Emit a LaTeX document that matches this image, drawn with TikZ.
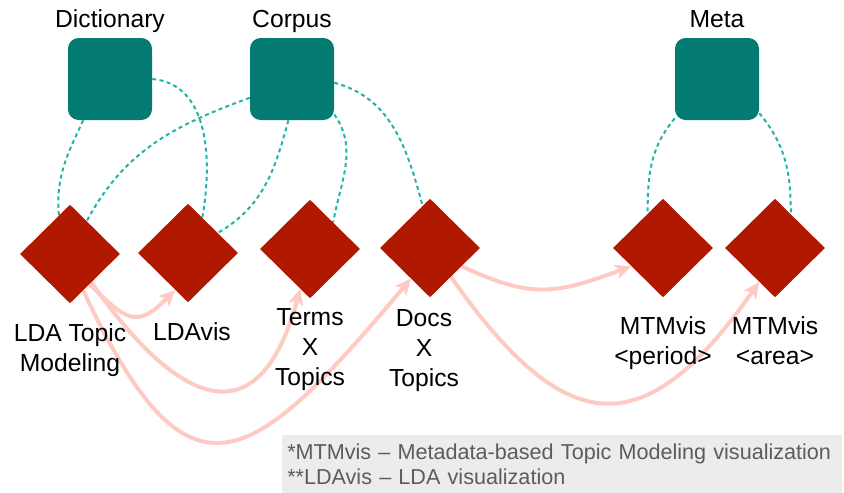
\documentclass[tikz,border=0pt]{standalone}
\usepackage{fontspec}
\setmainfont{Liberation Sans}
\usepackage{tikz}
\usetikzlibrary{positioning, arrows.meta, shapes.geometric, backgrounds}
\definecolor{srcteal}{RGB}{3,122,114}
\definecolor{linkteal}{RGB}{32,180,168}
\definecolor{visred}{RGB}{176,24,0}
\definecolor{flowpink}{RGB}{255,202,196}
\definecolor{notegray}{RGB}{236,236,236}
\definecolor{notetext}{RGB}{92,92,92}

\begin{document}
\begin{tikzpicture}[x=0.75pt, y=0.75pt, node distance=7.5pt,
  every node/.style={font=\fontsize{18.5}{22.5}\selectfont},
  srcbox/.style={fill=srcteal, rounded corners=8pt, minimum width=63pt, minimum height=61.5pt, inner sep=0pt},
  heading/.style={inner sep=0pt, text depth=0pt},
  visdiam/.style={diamond, fill=visred, minimum width=75pt, minimum height=74pt, inner sep=0pt},
  vislabel/.style={inner sep=0pt, align=center},
  datalink/.style={draw=linkteal, line width=1.5pt, dash pattern=on 3pt off 2.5pt},
  flow/.style={draw=flowpink, line width=3pt, -{Stealth[length=12pt, width=11pt, inset=3pt]}}]
\useasboundingbox (0,0) rectangle (844,-493);

% sources
\node[srcbox] (dict) at (110,-79) {};
\node[srcbox] (corpus) at (292,-79) {};
\node[srcbox] (meta) at (717,-79) {};
\node[heading, above=of dict] (dictlabel) {Dictionary};
\node[heading, above=of corpus] (corpuslabel) {Corpus};
\node[heading, above=of meta] (metalabel) {Meta};

% visualizations
\node[visdiam] (lda) at (70,-254) {};
\node[visdiam] (ldavis) at (188,-253) {};
\node[visdiam] (terms) at (310,-249) {};
\node[visdiam] (docs) at (430,-248) {};
\node[visdiam] (mtmp) at (663,-248) {};
\node[visdiam] (mtma) at (775,-248) {};
\node[vislabel, below=15pt of lda] (ldalabel) {LDA Topic\\Modeling};
\node[vislabel, below=15pt of ldavis, xshift=3pt] (ldavislabel) {LDAvis};
\node[vislabel, below=7.5pt of terms] (termslabel) {Terms\\X\\Topics};
\node[vislabel, below=9pt of docs, xshift=-4.5pt] (docslabel) {Docs\\X\\Topics};
\node[vislabel, below=14pt of mtmp] (mtmplabel) {MTMvis\\<period>};
\node[vislabel, below=14pt of mtma] (mtmalabel) {MTMvis\\<area>};

% note
\node[anchor=north west, fill=notegray, text=notetext, font=\fontsize{16.2}{18.75}\selectfont,
  align=left, text width=412pt, minimum height=43.5pt, inner xsep=3.75pt, inner ysep=0pt]
  (note) at (282,-435) {*MTMvis -- Metadata-based Topic Modeling visualization\\{}**LDAvis -- LDA visualization};

\begin{pgfonlayer}{background}
% dashed data links
\draw[datalink] (dict.-123) to[out=-115, in=95] (lda.106);
\draw[datalink] (dict.east) to[out=-5, in=80] (ldavis.68);
\draw[datalink] (corpus.204) to[out=200, in=62] (lda.63);
\draw[datalink] (corpus.-95) to[out=-105, in=30] (ldavis.34);
\draw[datalink] (corpus.-40) to[out=-55, in=80] (terms.49);
\draw[datalink] (corpus.-5) to[out=-15, in=105] (docs.100);
\draw[datalink] (meta.223) to[out=-130, in=90] (mtmp.114);
\draw[datalink] (meta.-39) to[out=-50, in=90] (mtma.65);
% flows
\draw[flow] (lda.-57) to[out=-45, in=-135, looseness=1.6] (ldavis.-109);
\draw[flow] (lda.-53) to[out=-55, in=-105, looseness=1.9] (terms.-104);
\draw[flow] (lda.-70) to[out=-65, in=-130, looseness=1.95] (docs.-122);
\draw[flow] (docs.-30) to[out=-25, in=-160, looseness=1.2] (mtmp.-150);
\draw[flow] (docs.-54) to[out=-55, in=-125, looseness=1.66] (mtma.-115);
\end{pgfonlayer}
\end{tikzpicture}
\end{document}
